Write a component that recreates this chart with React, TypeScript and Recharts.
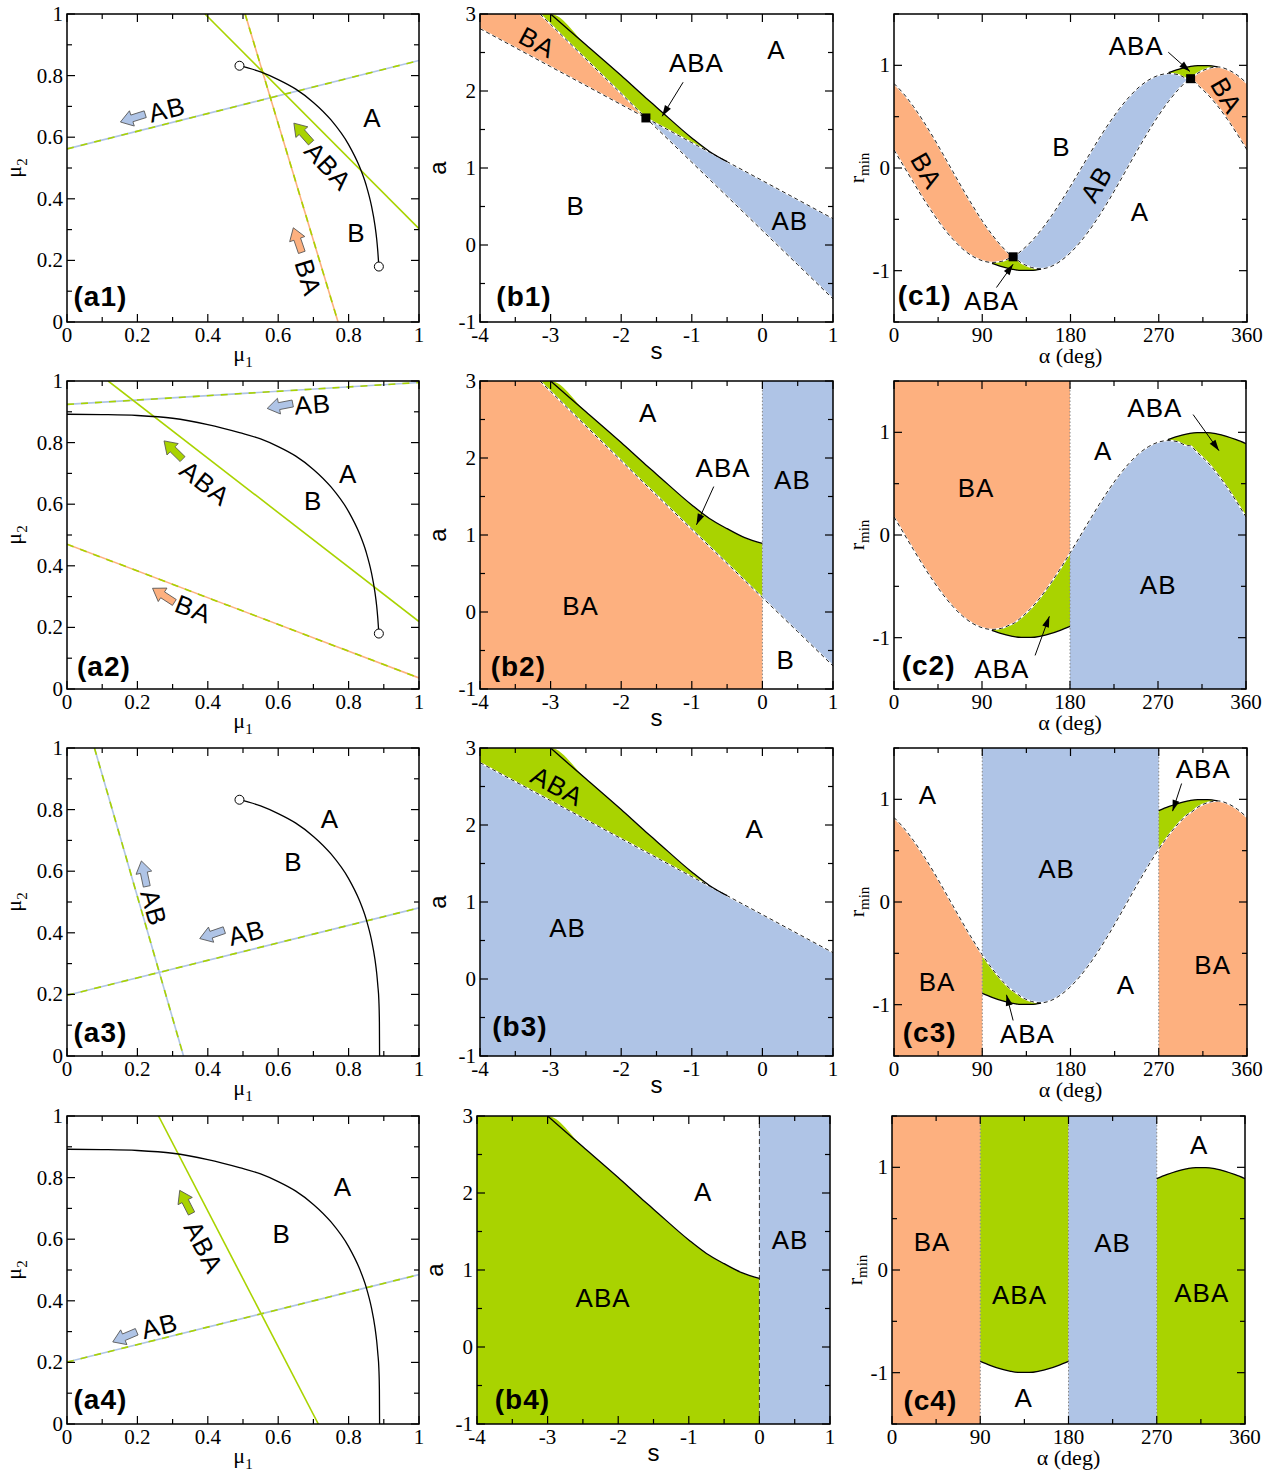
import React from "react";
import { ComposedChart, XAxis, YAxis, Line, Area, ReferenceLine, ReferenceDot } from "recharts";

const ORANGE = "#FDB07F";
const BLUE = "#AFC4E6";
const GREEN = "#A9D300";

// ---------- column a : (mu1, mu2) plane ----------
const muTicks = [0, 0.1, 0.2, 0.3, 0.4, 0.5, 0.6, 0.7, 0.8, 0.9, 1];
const muMajor = [0, 0.2, 0.4, 0.6, 0.8, 1];

// A/B boundary curve (black)
const boundaryMu1 = [0, 0.1, 0.2, 0.3, 0.4, 0.49, 0.55, 0.6, 0.65, 0.7, 0.75, 0.8, 0.83, 0.85, 0.865, 0.875, 0.88, 0.883, 0.886, 0.8875, 0.888];
const boundaryMu2 = [0.892, 0.891, 0.888, 0.879, 0.858, 0.832, 0.812, 0.787, 0.756, 0.713, 0.656, 0.576, 0.507, 0.444, 0.377, 0.313, 0.267, 0.229, 0.18, 0.11, 0];

// threshold lines, [mu1, mu2] end points
const a1LineAB = [[0, 0.562], [1, 0.849]];
const a1LineABA = [[0.392, 1], [1, 0.303]];
const a1LineBA = [[0.506, 1], [0.77, 0]];
const a2LineAB = [[0, 0.924], [1, 0.995]];
const a2LineABA = [[0.117, 1], [1, 0.219]];
const a2LineBA = [[0, 0.47], [1, 0.036]];
const a3LineABsteep = [[0.078, 1], [0.331, 0]];
const a3LineABflat = [[0, 0.197], [1, 0.481]];
const a4LineABA = [[0.26, 1], [0.714, 0]];
const a4LineAB = [[0, 0.201], [1, 0.485]];

// ---------- column b : (s, a) plane ----------
const sTicks = [-4, -3.5, -3, -2.5, -2, -1.5, -1, -0.5, 0, 0.5, 1];
const sMajor = [-4, -3, -2, -1, 0, 1];
const aTicks = [-1, -0.5, 0, 0.5, 1, 1.5, 2, 2.5, 3];
const aMajor = [-1, 0, 1, 2, 3];
const sGrid = [-4, -3.5, -3.15, -3, -2.5, -2, -1.65, -1.5, -1, -0.75, -0.5, -0.25, 0, 0.5, 1];
const lineL1 = [2.81, 2.563, 2.39, 2.316, 2.07, 1.823, 1.65, 1.576, 1.329, 1.206, 1.082, 0.959, 0.836, 0.589, 0.342];
const lineL2 = [null, null, 3.0, 2.865, 2.415, 1.965, 1.65, 1.517, 1.074, 0.852, 0.631, 0.409, 0.187, -0.256, -0.7];
const curveC = [null, null, null, 3.0, 2.6, 2.2, 1.91, 1.79, 1.39, 1.215, 1.082, 0.965, 0.89, null, null];

// ---------- column c : (alpha, r_min) plane ----------
const alphaTicks = [0, 45, 90, 135, 180, 225, 270, 315, 360];
const alphaMajor = [0, 90, 180, 270, 360];
const rTicks = [-1.5, -1, -0.5, 0, 0.5, 1, 1.5];
const rMajor = [-1, 0, 1];
const alphaDeg = [0, 10, 20, 30, 40, 50, 60, 70, 80, 90, 100, 110, 120, 121.5, 130, 140, 150, 160, 170, 180, 190, 200, 210, 220, 230, 240, 250, 260, 270, 280, 290, 300, 302.5, 310, 320, 330, 340, 350, 360];
const bandP = [0.823, 0.721, 0.597, 0.455, 0.3, 0.135, -0.034, -0.202, -0.363, -0.514, -0.649, -0.764, -0.856, -0.865, -0.925, -0.968, -0.982, -0.96, -0.905, -0.825, -0.721, -0.597, -0.455, -0.3, -0.135, 0.034, 0.202, 0.363, 0.514, 0.649, 0.764, 0.856, 0.87, 0.925, 0.968, 0.985, 0.96, 0.905, 0.823];
const bandQ = [0.176, 0.016, -0.144, -0.3, -0.446, -0.579, -0.694, -0.789, -0.859, -0.903, -0.92, -0.909, -0.87, -0.865, -0.805, -0.715, -0.604, -0.474, -0.33, -0.176, -0.016, 0.144, 0.3, 0.446, 0.579, 0.694, 0.789, 0.859, 0.903, 0.92, 0.909, 0.87, 0.87, 0.805, 0.715, 0.604, 0.474, 0.33, 0.176];
const solidLow = [null, null, null, null, null, null, null, null, null, -0.89, -0.928, -0.961, -0.985, -0.988, -0.998, -0.998, -0.985, -0.961, -0.928, -0.89, null, null, null, null, null, null, null, null, null, null, null, null, null, null, null, null, null, null, null];
const solidHigh = [null, null, null, null, null, null, null, null, null, null, null, null, null, null, null, null, null, null, null, null, null, null, null, null, null, null, null, null, 0.89, 0.928, 0.961, 0.985, 0.99, 0.998, 0.998, 0.985, 0.961, 0.928, 0.89];

// ---------- layout ----------
const YW = 72;
const MT = 14;
const MR = 16;
const XH = 48;
const serif = '"Liberation Serif", "Times New Roman", serif';
const sans = '"Liberation Sans", Arial, sans-serif';

const AXES: any = {
  a: { xd: [0, 1], yd: [0, 1], xt: muTicks, xm: muMajor, yt: muTicks, ym: muMajor },
  b: { xd: [-4, 1], yd: [-1, 3], xt: sTicks, xm: sMajor, yt: aTicks, ym: aMajor },
  c: { xd: [0, 360], yd: [-1.5, 1.5], xt: alphaTicks, xm: alphaMajor, yt: rTicks, ym: rMajor },
};

const near = (v: number, list: number[]) => list.some((t) => Math.abs(t - v) < 1e-6);
const inW = (v: number, lo: number, hi: number) => v >= lo - 1e-9 && v <= hi + 1e-9;

function xTitle(kind: string, cx: number, y: number) {
  if (kind === "a")
    return (
      <text x={cx} y={y + 39} textAnchor="middle" fontFamily={serif} fontSize={22} fill="#000">
        μ<tspan fontSize={15} dy={6}>1</tspan>
      </text>
    );
  if (kind === "b")
    return (
      <text x={cx} y={y + 37} textAnchor="middle" fontFamily={sans} fontSize={24} fill="#000">
        s
      </text>
    );
  return (
    <text x={cx} y={y + 41} textAnchor="middle" fontFamily={serif} fontSize={22} fill="#000">
      α (deg)
    </text>
  );
}

function yTitle(kind: string, x: number, cy: number) {
  if (kind === "a")
    return (
      <text transform={`translate(${x - 46} ${cy}) rotate(-90)`} textAnchor="middle" fontFamily={serif} fontSize={22} fill="#000">
        μ<tspan fontSize={15} dy={6}>2</tspan>
      </text>
    );
  if (kind === "b")
    return (
      <text transform={`translate(${x - 34} ${cy}) rotate(-90)`} textAnchor="middle" fontFamily={sans} fontSize={24} fill="#000">
        a
      </text>
    );
  return (
    <text transform={`translate(${x - 30} ${cy}) rotate(-90)`} textAnchor="middle" fontFamily={serif} fontSize={22} fill="#000">
      r<tspan fontSize={15} dy={5}>min</tspan>
    </text>
  );
}

function drawNote(n: any, cx: number, cy: number, sx: number, sy: number) {
  if (n.t === "txt") {
    return (
      <text
        x={cx}
        y={cy}
        transform={n.rot ? `rotate(${n.rot} ${cx} ${cy})` : undefined}
        textAnchor="middle"
        dominantBaseline="central"
        fontFamily={sans}
        fontSize={n.bold ? 28 : 26}
        fontWeight={n.bold ? "bold" : "normal"}
        letterSpacing={1}
        fill="#000"
      >
        {n.s}
      </text>
    );
  }
  if (n.t === "blk") {
    return (
      <polygon
        points="-13,-3.5 1,-3.5 1,-8 13,0 1,8 1,3.5 -13,3.5"
        transform={`translate(${cx} ${cy}) rotate(${n.rot})`}
        fill={n.c}
        stroke="#555"
        strokeWidth={0.8}
      />
    );
  }
  if (n.t === "arr") {
    const tx = cx + (n.fx - n.x) * sx;
    const ty = cy - (n.fy - n.y) * sy;
    const ang = (Math.atan2(cy - ty, cx - tx) * 180) / Math.PI;
    return (
      <g>
        <line x1={tx} y1={ty} x2={cx} y2={cy} stroke="#000" strokeWidth={1} />
        <polygon points="0,0 -11,-3.5 -11,3.5" transform={`translate(${cx} ${cy}) rotate(${ang})`} fill="#000" />
      </g>
    );
  }
  if (n.t === "sq") return <rect x={cx - 4.5} y={cy - 4.5} width={9} height={9} fill="#000" />;
  return <circle cx={cx} cy={cy} r={4.5} fill="#fff" stroke="#000" strokeWidth={1} />;
}

function Panel(props: any) {
  const { kind, px, py, pw, ph, data, notes, children } = props;
  const ax = AXES[kind];
  const W = YW + pw + MR;
  const H = MT + ph + XH;
  const xb = MT + ph;
  const sx = pw / (ax.xd[1] - ax.xd[0]);
  const sy = ph / (ax.yd[1] - ax.yd[0]);

  const xTick = (p: any) => {
    const v = p.payload.value;
    const x = p.x;
    const major = near(v, ax.xm);
    const len = major ? 8 : 5;
    const first = Math.abs(v - ax.xd[0]) < 1e-6;
    return (
      <g>
        <line x1={x} y1={xb} x2={x} y2={xb - len} stroke="#000" strokeWidth={1.2} />
        <line x1={x} y1={MT} x2={x} y2={MT + len} stroke="#000" strokeWidth={1.2} />
        {major ? (
          <text x={x} y={xb + 20} textAnchor="middle" fontFamily={serif} fontSize={21} fill="#000">
            {String(v)}
          </text>
        ) : null}
        {first ? <rect x={YW} y={MT} width={pw} height={ph} fill="none" stroke="#000" strokeWidth={1.5} /> : null}
        {first ? xTitle(kind, YW + pw / 2, xb) : null}
      </g>
    );
  };

  const yTick = (p: any) => {
    const v = p.payload.value;
    const y = p.y;
    const major = near(v, ax.ym);
    const len = major ? 8 : 5;
    const first = Math.abs(v - ax.yd[0]) < 1e-6;
    return (
      <g>
        <line x1={YW} y1={y} x2={YW + len} y2={y} stroke="#000" strokeWidth={1.2} />
        <line x1={YW + pw} y1={y} x2={YW + pw - len} y2={y} stroke="#000" strokeWidth={1.2} />
        {major ? (
          <text x={YW - 4} y={y + 7} textAnchor="end" fontFamily={serif} fontSize={21} fill="#000">
            {String(v)}
          </text>
        ) : null}
        {first ? yTitle(kind, YW, MT + ph / 2) : null}
      </g>
    );
  };

  return (
    <div style={{ position: "absolute", left: px - YW, top: py - MT, width: W, height: H }}>
      <ComposedChart width={W} height={H} data={data} margin={{ top: MT, right: MR, bottom: 0, left: 0 }}>
        <XAxis
          dataKey="x"
          type="number"
          domain={ax.xd}
          ticks={ax.xt}
          interval={0}
          allowDataOverflow
          axisLine={false}
          tickLine={false}
          tickSize={0}
          tickMargin={0}
          height={XH}
          tick={xTick}
        />
        <YAxis
          type="number"
          domain={ax.yd}
          ticks={ax.yt}
          interval={0}
          allowDataOverflow
          axisLine={false}
          tickLine={false}
          tickSize={0}
          tickMargin={0}
          width={YW}
          tick={yTick}
        />
        {children}
        {notes.map((n: any, i: number) => (
          <ReferenceDot
            key={"n" + i}
            x={n.x}
            y={n.y}
            r={3}
            ifOverflow="visible"
            shape={(p: any) => drawNote(n, p.cx, p.cy, sx, sy)}
          />
        ))}
      </ComposedChart>
    </div>
  );
}

// ---------- series helpers ----------
const xy = (pts: number[][]) => pts.map(([x, y]) => ({ x, y }));
const boundary = (from: number, to: number) =>
  boundaryMu1.map((x, i) => ({ x, y: boundaryMu2[i] })).filter((p) => inW(p.x, from, to));

function twoTone(key: string, pts: number[][], base: string, dash?: string) {
  const d = xy(pts);
  const out = [
    <Line key={key} data={d} dataKey="y" type="linear" stroke={base} strokeWidth={1.6} dot={false} activeDot={false} isAnimationActive={false} />,
  ];
  if (dash)
    out.push(
      <Line key={key + "-d"} data={d} dataKey="y" type="linear" stroke={dash} strokeWidth={1.6} strokeDasharray="7 7" dot={false} activeDot={false} isAnimationActive={false} />
    );
  return out;
}

const boundaryLine = (from: number, to: number) => (
  <Line key="bd" data={boundary(from, to)} dataKey="y" type="monotone" stroke="#000" strokeWidth={1.3} dot={false} activeDot={false} isAnimationActive={false} />
);

const area = (key: string, fill: string) => (
  <Area key={key} dataKey={key} type="monotone" stroke="none" fill={fill} fillOpacity={1} dot={false} activeDot={false} isAnimationActive={false} />
);
const dashed = (key: string) => [
  <Line key={key + "w"} dataKey={key} type="monotone" stroke="#fff" strokeWidth={1.6} dot={false} activeDot={false} isAnimationActive={false} />,
  <Line key={key + "d"} dataKey={key} type="monotone" stroke="#222" strokeWidth={1} strokeDasharray="4 3" dot={false} activeDot={false} isAnimationActive={false} />,
];
const solid = (key: string) => (
  <Line key={key} dataKey={key} type="monotone" stroke="#000" strokeWidth={1.3} dot={false} activeDot={false} isAnimationActive={false} />
);
const vline = (x: number, dark?: boolean) => (
  <ReferenceLine key={"v" + x} x={x} stroke={dark ? "#333" : "#888"} strokeWidth={1} strokeDasharray={dark ? "5 3" : "1.5 2"} />
);

function bRows(panel: number) {
  return sGrid.map((s, i) => {
    const l1 = lineL1[i];
    const l2 = lineL2[i];
    const c = curveC[i];
    const row: any = { x: s };
    if (panel === 1) {
      row.orange = s <= -1.65 ? [l1, l2 ?? 3] : null;
      row.green = inW(s, -3.15, -0.5) ? [s <= -1.65 ? l2 : l1, c ?? 3] : null;
      row.blue = s >= -1.65 ? [l2, l1] : null;
      row.L1 = l1;
      row.L2 = l2;
      row.C = s <= -0.5 ? c : null;
    } else if (panel === 2) {
      row.orange = s <= 0 ? [-1, l2 ?? 3] : null;
      row.green = inW(s, -3.15, 0) ? [l2, c ?? 3] : null;
      row.blue = s >= 0 ? [l2, 3] : null;
      row.L2 = l2;
      row.C = s <= 0 ? c : null;
    } else if (panel === 3) {
      row.blue = [-1, l1];
      row.green = s <= -0.5 ? [l1, c ?? 3] : null;
      row.L1 = l1;
      row.C = s <= -0.5 ? c : null;
    } else {
      row.green = s <= 0 ? [-1, c ?? 3] : null;
      row.blue = s >= 0 ? [-1, 3] : null;
      row.C = s <= 0 ? c : null;
    }
    return row;
  });
}

function cRows(panel: number) {
  return alphaDeg.map((a, i) => {
    const p = bandP[i];
    const q = bandQ[i];
    const lo = solidLow[i];
    const hi = solidHigh[i];
    const row: any = { x: a };
    if (panel === 1) {
      row.orange = a <= 121.5 || a >= 302.5 ? [q, p] : null;
      row.blue = inW(a, 121.5, 302.5) ? [p, q] : null;
      row.green = inW(a, 100, 150) ? [lo, Math.min(p, q)] : inW(a, 280, 330) ? [Math.max(p, q), hi] : null;
      row.P = p;
      row.Q = q;
      row.low = inW(a, 100, 150) ? lo : null;
      row.high = inW(a, 280, 330) ? hi : null;
    } else if (panel === 2) {
      row.orange = a <= 180 ? [q, 1.5] : null;
      row.blue = a >= 180 ? [-1.5, q] : null;
      row.green = inW(a, 100, 180) ? [lo, q] : inW(a, 280, 360) ? [q, hi] : null;
      row.Q = q;
      row.low = inW(a, 100, 180) ? lo : null;
      row.high = inW(a, 280, 360) ? hi : null;
    } else if (panel === 3) {
      row.orange = a <= 90 || a >= 270 ? [-1.5, p] : null;
      row.blue = inW(a, 90, 270) ? [p, 1.5] : null;
      row.green = inW(a, 90, 150) ? [lo, p] : inW(a, 270, 330) ? [p, hi] : null;
      row.P = p;
      row.low = inW(a, 90, 150) ? lo : null;
      row.high = inW(a, 270, 330) ? hi : null;
    } else {
      row.orange = a <= 90 ? [-1.5, 1.5] : null;
      row.green = inW(a, 90, 180) ? [lo, 1.5] : inW(a, 270, 360) ? [-1.5, hi] : null;
      row.blue = inW(a, 180, 270) ? [-1.5, 1.5] : null;
      row.low = inW(a, 90, 180) ? lo : null;
      row.high = inW(a, 270, 360) ? hi : null;
    }
    return row;
  });
}

// ---------- annotations ----------
const a1Notes = [
  { t: "blk", x: 0.187, y: 0.662, rot: 162.5, c: BLUE },
  { t: "txt", x: 0.284, y: 0.69, s: "AB", rot: -14 },
  { t: "blk", x: 0.669, y: 0.614, rot: -131.5, c: GREEN },
  { t: "txt", x: 0.742, y: 0.506, s: "ABA", rot: 47 },
  { t: "blk", x: 0.655, y: 0.266, rot: -109, c: ORANGE },
  { t: "txt", x: 0.685, y: 0.144, s: "BA", rot: 73 },
  { t: "txt", x: 0.868, y: 0.663, s: "A" },
  { t: "txt", x: 0.822, y: 0.29, s: "B" },
  { t: "txt", x: 0.095, y: 0.084, s: "(a1)", bold: true },
  { t: "o", x: 0.49, y: 0.832 },
  { t: "o", x: 0.886, y: 0.18 },
];
const a2Notes = [
  { t: "blk", x: 0.605, y: 0.919, rot: 169, c: BLUE },
  { t: "txt", x: 0.698, y: 0.924, s: "AB", rot: -4 },
  { t: "blk", x: 0.302, y: 0.776, rot: -135.5, c: GREEN },
  { t: "txt", x: 0.392, y: 0.668, s: "ABA", rot: 38 },
  { t: "blk", x: 0.274, y: 0.304, rot: -147, c: ORANGE },
  { t: "txt", x: 0.359, y: 0.259, s: "BA", rot: 21 },
  { t: "txt", x: 0.799, y: 0.698, s: "A" },
  { t: "txt", x: 0.699, y: 0.609, s: "B" },
  { t: "txt", x: 0.105, y: 0.074, s: "(a2)", bold: true },
  { t: "o", x: 0.886, y: 0.18 },
];
const a3Notes = [
  { t: "blk", x: 0.219, y: 0.592, rot: -102, c: BLUE },
  { t: "txt", x: 0.246, y: 0.481, s: "AB", rot: 74 },
  { t: "blk", x: 0.412, y: 0.395, rot: 161, c: BLUE },
  { t: "txt", x: 0.51, y: 0.4, s: "AB", rot: -14 },
  { t: "txt", x: 0.747, y: 0.768, s: "A" },
  { t: "txt", x: 0.643, y: 0.629, s: "B" },
  { t: "txt", x: 0.095, y: 0.076, s: "(a3)", bold: true },
  { t: "o", x: 0.49, y: 0.832 },
];
const a4Notes = [
  { t: "blk", x: 0.337, y: 0.721, rot: -117, c: GREEN },
  { t: "txt", x: 0.388, y: 0.574, s: "ABA", rot: 62.5 },
  { t: "blk", x: 0.164, y: 0.283, rot: 157, c: BLUE },
  { t: "txt", x: 0.263, y: 0.318, s: "AB", rot: -14 },
  { t: "txt", x: 0.784, y: 0.77, s: "A" },
  { t: "txt", x: 0.61, y: 0.617, s: "B" },
  { t: "txt", x: 0.095, y: 0.079, s: "(a4)", bold: true },
];
const b1Notes = [
  { t: "txt", x: -3.19, y: 2.63, s: "BA", rot: 28 },
  { t: "txt", x: -0.934, y: 2.364, s: "ABA" },
  { t: "arr", x: -1.42, y: 1.672, fx: -1.123, fy: 2.114 },
  { t: "txt", x: 0.198, y: 2.537, s: "A" },
  { t: "txt", x: -2.646, y: 0.505, s: "B" },
  { t: "txt", x: 0.387, y: 0.31, s: "AB" },
  { t: "txt", x: -3.377, y: -0.663, s: "(b1)", bold: true },
  { t: "sq", x: -1.65, y: 1.65 },
];
const b2Notes = [
  { t: "txt", x: -1.618, y: 2.58, s: "A" },
  { t: "txt", x: -0.557, y: 1.867, s: "ABA" },
  { t: "arr", x: -0.934, y: 1.132, fx: -0.689, fy: 1.629 },
  { t: "txt", x: 0.425, y: 1.716, s: "AB" },
  { t: "txt", x: -2.575, y: 0.072, s: "BA" },
  { t: "txt", x: 0.33, y: -0.62, s: "B" },
  { t: "txt", x: -3.457, y: -0.706, s: "(b2)", bold: true },
];
const b3Notes = [
  { t: "txt", x: -2.906, y: 2.503, s: "ABA", rot: 28 },
  { t: "txt", x: -0.108, y: 1.949, s: "A" },
  { t: "txt", x: -2.759, y: 0.665, s: "AB" },
  { t: "txt", x: -3.434, y: -0.619, s: "(b3)", bold: true },
];
const b4Notes = [
  { t: "txt", x: -0.796, y: 2.018, s: "A" },
  { t: "txt", x: 0.433, y: 1.391, s: "AB" },
  { t: "txt", x: -2.214, y: 0.635, s: "ABA" },
  { t: "txt", x: -3.357, y: -0.684, s: "(b4)", bold: true },
];
const c1Notes = [
  { t: "txt", x: 33, y: -0.026, s: "BA", rot: 60 },
  { t: "txt", x: 170.8, y: 0.2, s: "B" },
  { t: "txt", x: 206.5, y: -0.156, s: "AB", rot: -60 },
  { t: "txt", x: 250.8, y: -0.433, s: "A" },
  { t: "txt", x: 247, y: 1.193, s: "ABA" },
  { t: "arr", x: 301.8, y: 0.94, fx: 279.7, fy: 1.128 },
  { t: "txt", x: 339, y: 0.706, s: "BA", rot: 60 },
  { t: "txt", x: 31.3, y: -1.245, s: "(c1)", bold: true },
  { t: "txt", x: 99.4, y: -1.294, s: "ABA" },
  { t: "arr", x: 121.5, y: -0.937, fx: 104.5, fy: -1.164 },
  { t: "sq", x: 121.5, y: -0.865 },
  { t: "sq", x: 302.5, y: 0.87 },
];
const c2Notes = [
  { t: "txt", x: 84, y: 0.456, s: "BA" },
  { t: "txt", x: 214, y: 0.814, s: "A" },
  { t: "txt", x: 266.8, y: 1.238, s: "ABA" },
  { t: "arr", x: 332.4, y: 0.821, fx: 305.9, fy: 1.173 },
  { t: "txt", x: 270.2, y: -0.489, s: "AB" },
  { t: "txt", x: 110.2, y: -1.303, s: "ABA" },
  { t: "arr", x: 158.9, y: -0.792, fx: 144.3, fy: -1.173 },
  { t: "txt", x: 35.4, y: -1.27, s: "(c2)", bold: true },
];
const c3Notes = [
  { t: "txt", x: 34.7, y: 1.04, s: "A" },
  { t: "txt", x: 165.7, y: 0.325, s: "AB" },
  { t: "txt", x: 315.4, y: 1.3, s: "ABA" },
  { t: "arr", x: 284.1, y: 0.885, fx: 293.3, fy: 1.154 },
  { t: "txt", x: 43.9, y: -0.78, s: "BA" },
  { t: "txt", x: 136.1, y: -1.285, s: "ABA" },
  { t: "arr", x: 114.7, y: -0.904, fx: 121.5, fy: -1.154 },
  { t: "txt", x: 236.5, y: -0.813, s: "A" },
  { t: "txt", x: 325, y: -0.611, s: "BA" },
  { t: "txt", x: 36.4, y: -1.268, s: "(c3)", bold: true },
];
const c4Notes = [
  { t: "txt", x: 40.8, y: 0.276, s: "BA" },
  { t: "txt", x: 130, y: -0.244, s: "ABA" },
  { t: "txt", x: 134.2, y: -1.246, s: "A" },
  { t: "txt", x: 224.9, y: 0.26, s: "AB" },
  { t: "txt", x: 313.2, y: 1.22, s: "A" },
  { t: "txt", x: 315.9, y: -0.228, s: "ABA" },
  { t: "txt", x: 39.1, y: -1.268, s: "(c4)", bold: true },
];

export default function App() {
  const PH = 308;
  return (
    <div style={{ position: "absolute", left: 0, top: 0, width: 1278, height: 1473, background: "#fff" }}>
      {/* row 1 */}
      <Panel kind="a" px={67} py={14} pw={352} ph={PH} notes={a1Notes}>
        {[
          ...twoTone("ab", a1LineAB, BLUE, GREEN),
          ...twoTone("aba", a1LineABA, GREEN),
          ...twoTone("ba", a1LineBA, ORANGE, GREEN),
          boundaryLine(0.49, 0.886),
        ]}
      </Panel>
      <Panel kind="b" px={480} py={14} pw={353} ph={PH} data={bRows(1)} notes={b1Notes}>
        {[area("orange", ORANGE), area("green", GREEN), area("blue", BLUE), ...dashed("L1"), ...dashed("L2"), solid("C")]}
      </Panel>
      <Panel kind="c" px={894} py={14} pw={353} ph={PH} data={cRows(1)} notes={c1Notes}>
        {[area("orange", ORANGE), area("blue", BLUE), area("green", GREEN), ...dashed("P"), ...dashed("Q"), solid("low"), solid("high")]}
      </Panel>

      {/* row 2 */}
      <Panel kind="a" px={67} py={381} pw={352} ph={PH} notes={a2Notes}>
        {[
          ...twoTone("ab", a2LineAB, BLUE, GREEN),
          ...twoTone("aba", a2LineABA, GREEN),
          ...twoTone("ba", a2LineBA, ORANGE, GREEN),
          boundaryLine(0, 0.886),
        ]}
      </Panel>
      <Panel kind="b" px={480} py={381} pw={353} ph={PH} data={bRows(2)} notes={b2Notes}>
        {[area("orange", ORANGE), area("green", GREEN), area("blue", BLUE), vline(0), ...dashed("L2"), solid("C")]}
      </Panel>
      <Panel kind="c" px={894} py={381} pw={352} ph={PH} data={cRows(2)} notes={c2Notes}>
        {[area("orange", ORANGE), area("blue", BLUE), area("green", GREEN), vline(180), ...dashed("Q"), solid("low"), solid("high")]}
      </Panel>

      {/* row 3 */}
      <Panel kind="a" px={67} py={748} pw={352} ph={PH} notes={a3Notes}>
        {[...twoTone("ab1", a3LineABsteep, BLUE, GREEN), ...twoTone("ab2", a3LineABflat, BLUE, GREEN), boundaryLine(0.49, 0.888)]}
      </Panel>
      <Panel kind="b" px={480} py={748} pw={353} ph={PH} data={bRows(3)} notes={b3Notes}>
        {[area("blue", BLUE), area("green", GREEN), ...dashed("L1"), solid("C")]}
      </Panel>
      <Panel kind="c" px={894} py={748} pw={353} ph={PH} data={cRows(3)} notes={c3Notes}>
        {[area("orange", ORANGE), area("blue", BLUE), area("green", GREEN), vline(90), vline(270), ...dashed("P"), solid("low"), solid("high")]}
      </Panel>

      {/* row 4 */}
      <Panel kind="a" px={67} py={1116} pw={352} ph={PH} notes={a4Notes}>
        {[...twoTone("aba", a4LineABA, GREEN), ...twoTone("ab", a4LineAB, BLUE, GREEN), boundaryLine(0, 0.888)]}
      </Panel>
      <Panel kind="b" px={477} py={1116} pw={353} ph={PH} data={bRows(4)} notes={b4Notes}>
        {[area("green", GREEN), area("blue", BLUE), vline(0, true), solid("C")]}
      </Panel>
      <Panel kind="c" px={892} py={1116} pw={353} ph={PH} data={cRows(4)} notes={c4Notes}>
        {[area("orange", ORANGE), area("green", GREEN), area("blue", BLUE), vline(90), vline(180), vline(270), solid("low"), solid("high")]}
      </Panel>
    </div>
  );
}
